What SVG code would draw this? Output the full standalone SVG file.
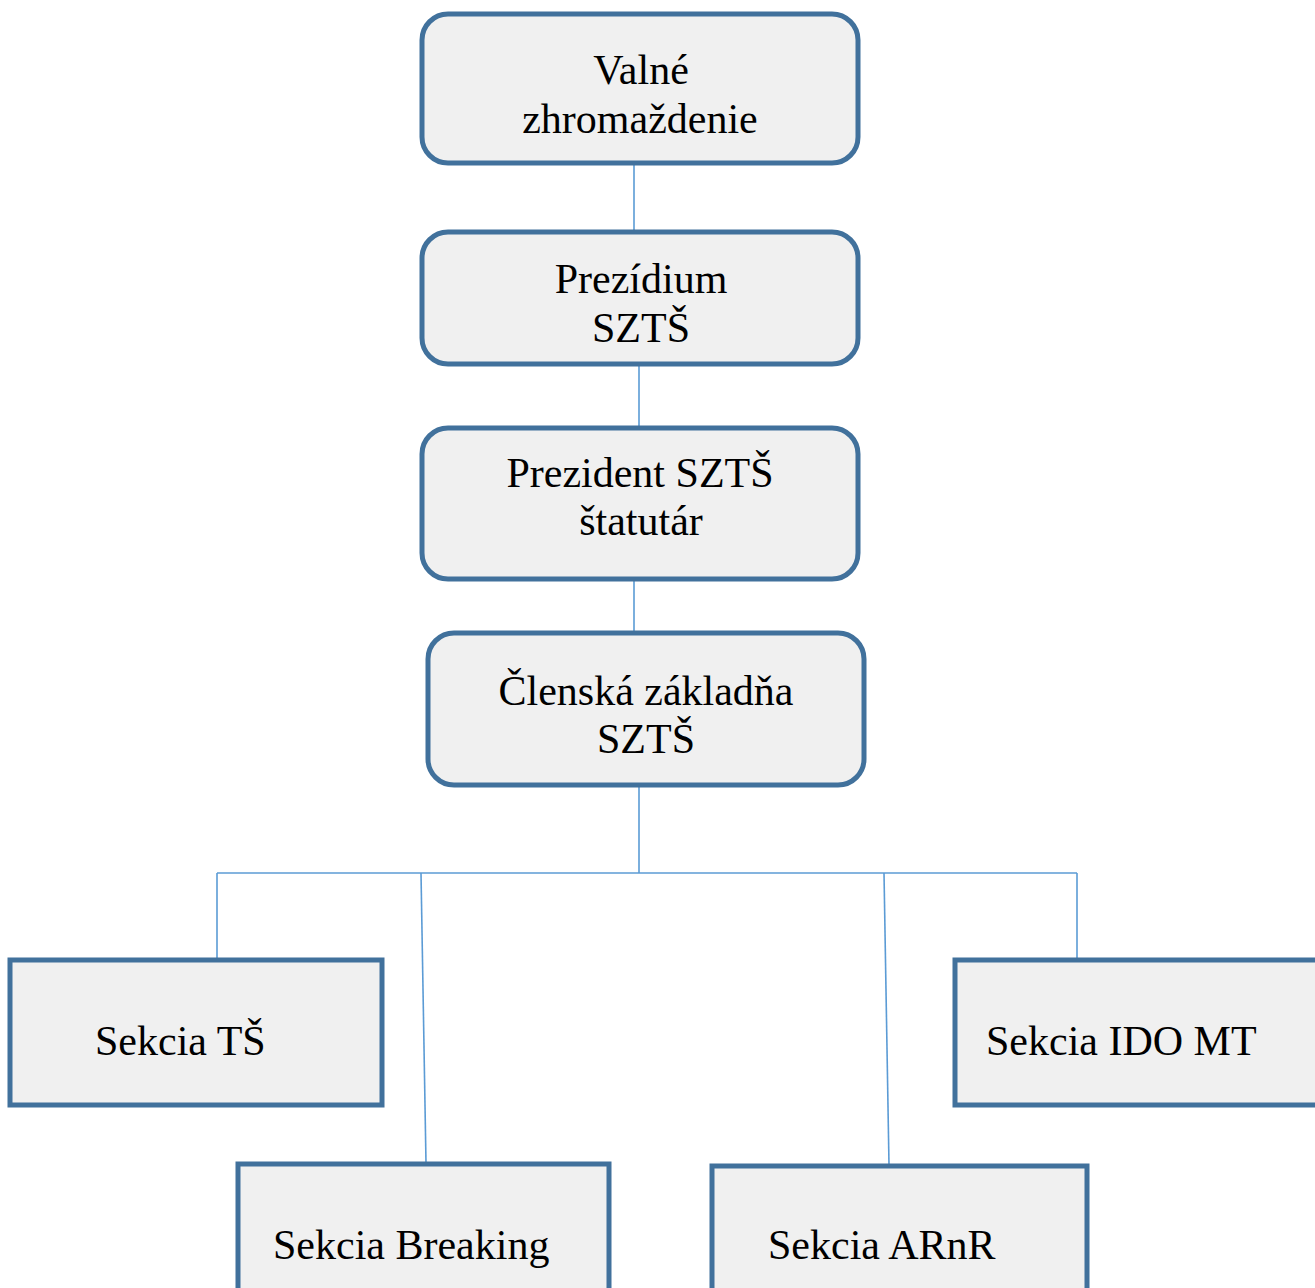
<svg xmlns="http://www.w3.org/2000/svg" width="1315" height="1288" viewBox="0 0 1315 1288">
<style>
.box{fill:#F0F0F0;stroke:#41719C;stroke-width:5}
.lbl{font-family:"Liberation Serif","Times New Roman",serif;font-size:42px;fill:#000}
.c{text-anchor:middle}
.con{stroke:#5B9BD5;stroke-width:1.6;fill:none}
</style>
<rect width="1315" height="1288" fill="#fff"/>
<g id="connectors">
<line class="con" x1="634" y1="163" x2="634" y2="232"/>
<line class="con" x1="639" y1="364" x2="639" y2="428"/>
<line class="con" x1="634" y1="579" x2="634" y2="633"/>
<line class="con" x1="639" y1="785" x2="639" y2="873"/>
<line class="con" x1="217" y1="873" x2="1077" y2="873"/>
<line class="con" x1="217" y1="873" x2="217" y2="959"/>
<line class="con" x1="421" y1="873" x2="426" y2="1163"/>
<line class="con" x1="884" y1="873" x2="889" y2="1165"/>
<line class="con" x1="1077" y1="873" x2="1077" y2="959"/>
</g>
<g id="valne">
<rect class="box" x="422" y="14" width="436" height="149" rx="26"/>
<text class="lbl c" x="641" y="84">Valné</text>
<text class="lbl c" x="640" y="133">zhromaždenie</text>
</g>
<g id="prezidium">
<rect class="box" x="422" y="232" width="436" height="132" rx="26"/>
<text class="lbl c" x="641" y="293">Prezídium</text>
<text class="lbl c" x="641" y="342">SZTŠ</text>
</g>
<g id="prezident">
<rect class="box" x="422" y="428" width="436" height="151" rx="26"/>
<text class="lbl c" x="640" y="487">Prezident SZTŠ</text>
<text class="lbl c" x="641" y="535">štatutár</text>
</g>
<g id="clenska">
<rect class="box" x="428" y="633" width="436" height="152" rx="26"/>
<text class="lbl c" x="646" y="705">Členská základňa</text>
<text class="lbl c" x="646" y="753">SZTŠ</text>
</g>
<g id="sekcia-ts">
<rect class="box" x="10" y="960" width="372" height="145"/>
<text class="lbl" x="95" y="1055">Sekcia TŠ</text>
</g>
<g id="sekcia-ido">
<rect class="box" x="955" y="960" width="370" height="145"/>
<text class="lbl" x="986" y="1055">Sekcia IDO MT</text>
</g>
<g id="sekcia-breaking">
<rect class="box" x="238" y="1164" width="371" height="140"/>
<text class="lbl" x="273" y="1259">Sekcia Breaking</text>
</g>
<g id="sekcia-arnr">
<rect class="box" x="712" y="1166" width="375" height="140"/>
<text class="lbl" x="768" y="1259">Sekcia ARnR</text>
</g>
</svg>
